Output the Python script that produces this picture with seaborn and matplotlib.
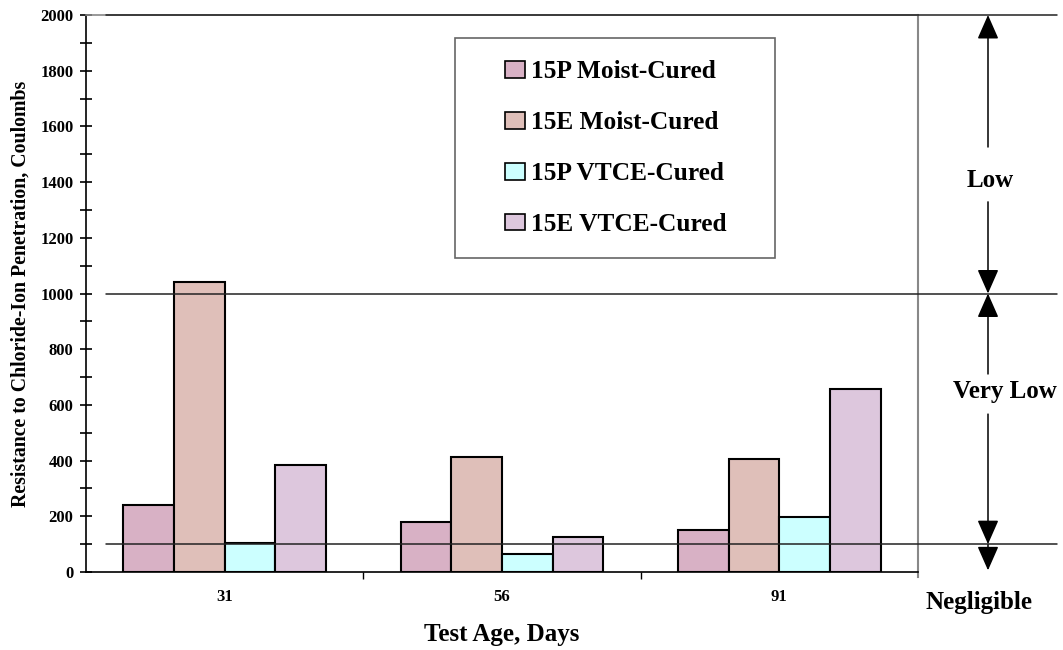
import numpy as np
import pandas as pd
import matplotlib
matplotlib.use("Agg")
import matplotlib.pyplot as plt
import matplotlib.patches as mpatches
from matplotlib.ticker import MultipleLocator, FixedLocator
import seaborn as sns

# ---------------- data ----------------
ages = ["31", "56", "91"]
series = ["15P Moist-Cured", "15E Moist-Cured", "15P VTCE-Cured", "15E VTCE-Cured"]
p_moist = [240, 180, 151]
e_moist = [1040, 414, 405]
p_vtce = [103, 66, 198]
e_vtce = [384, 126, 656]
colors = ["#D8B1C5", "#DFBFB9", "#CCFFFF", "#DDC7DD"]
class_limits = [100, 1000, 2000]
class_labels = ["Negligible", "Very Low", "Low"]

df = pd.DataFrame({
    "Age": ages * 4,
    "Series": np.repeat(series, len(ages)),
    "Value": p_moist + e_moist + p_vtce + e_vtce,
})

sns.set_theme(style="white")
plt.rcParams["font.family"] = ["Liberation Serif", "DejaVu Serif"]
plt.rcParams["font.weight"] = "bold"
for k in ["text.color", "axes.labelcolor", "xtick.color", "ytick.color"]:
    plt.rcParams[k] = "black"

W, H = 1063, 650
fig = plt.figure(figsize=(W / 100, H / 100), dpi=100)
ax = fig.add_axes([86 / W, 1 - 572 / H, 832 / W, 557 / H])

sns.barplot(data=df, x="Age", y="Value", hue="Series", hue_order=series,
            palette=colors, width=0.73, saturation=1, edgecolor="black",
            linewidth=1.5, ax=ax, legend=False, zorder=2)

ax.set_xlim(-0.5, 2.5)
ax.set_ylim(0, 2000)

# spines
for s in ["left", "bottom"]:
    ax.spines[s].set_color("black")
    ax.spines[s].set_linewidth(1.2)
ax.spines["top"].set_color("#888888")
ax.spines["top"].set_linewidth(1.2)
ax.spines["right"].set_color("#888888")
ax.spines["right"].set_linewidth(1.5)
ax.spines["right"].set_bounds(-18, 2000)
ax.spines["right"].set_clip_on(False)

# ticks
ax.yaxis.set_major_locator(MultipleLocator(200))
ax.yaxis.set_minor_locator(MultipleLocator(100))
ax.tick_params(axis="y", which="both", direction="inout", length=8, width=1.2,
               color="black", left=True, labelsize=12, pad=5)
ax.tick_params(axis="x", which="major", length=0, labelsize=12, pad=12)
ax.xaxis.set_minor_locator(FixedLocator([0.5, 1.5]))
ax.tick_params(axis="x", which="minor", direction="out", length=5, width=1,
               color="black", bottom=True)
for lab in ax.get_xticklabels() + ax.get_yticklabels():
    lab.set_fontweight("bold")

ax.set_xlabel("Test Age, Days", fontsize=18, fontweight="bold", labelpad=13)
ax.set_ylabel("Resistance to Chloride-Ion Penetration, Coulombs",
              fontsize=14.3, fontweight="bold", labelpad=7)

# class boundary lines, extending beyond the plot area
x0f = (106 - 86) / 832
x1f = (1057 - 86) / 832
for yv in class_limits:
    ax.axhline(yv, xmin=x0f, xmax=x1f, color="#222222", lw=1.1,
               clip_on=False, zorder=4)

# arrows & class labels
def px2x(px):
    return (px - 86) / (832 / 3) - 0.5

ax_x = px2x(988)
ak = dict(arrowstyle="-|>,head_length=0.75,head_width=0.33", color="black",
          lw=1.1, shrinkA=0, shrinkB=0, mutation_scale=20)
# Low: gap around label
ax.annotate("", xy=(ax_x, 2000), xytext=(ax_x, 1526), arrowprops=ak,
            annotation_clip=False)
ax.annotate("", xy=(ax_x, 1000), xytext=(ax_x, 1329), arrowprops=ak,
            annotation_clip=False)
# Very Low
ax.annotate("", xy=(ax_x, 1000), xytext=(ax_x, 711), arrowprops=ak,
            annotation_clip=False)
ax.annotate("", xy=(ax_x, 100), xytext=(ax_x, 567), arrowprops=ak,
            annotation_clip=False)
# Negligible
ax.annotate("", xy=(ax_x, 6), xytext=(ax_x, 100), arrowprops=ak,
            annotation_clip=False)

ax.text(px2x(990), 1404, class_labels[2], fontsize=18, fontweight="bold",
        ha="center", va="center", clip_on=False)
ax.text(px2x(1005), 648, class_labels[1], fontsize=18, fontweight="bold",
        ha="center", va="center", clip_on=False)
ax.text(px2x(979), -108, class_labels[0], fontsize=18, fontweight="bold",
        ha="center", va="center", clip_on=False)

# legend with a manual frame
handles = [mpatches.Patch(facecolor=c, edgecolor="black", lw=1.2) for c in colors]
leg = ax.legend(handles, series, loc="center",
                bbox_to_anchor=((616 - 86) / 832, (572 - 148) / 557),
                frameon=False, prop=dict(size=18.3, weight="bold"),
                labelspacing=1.1, handlelength=0.75, handleheight=0.65,
                handletextpad=0.25)
leg.set_zorder(6)
frame = mpatches.Rectangle(((455 - 86) / 832, (572 - 258) / 557),
                           320 / 832, 220 / 557, transform=ax.transAxes,
                           facecolor="white", edgecolor="#666666", lw=1.2,
                           zorder=5)
ax.add_patch(frame)

fig.savefig("out.png", dpi=100)
